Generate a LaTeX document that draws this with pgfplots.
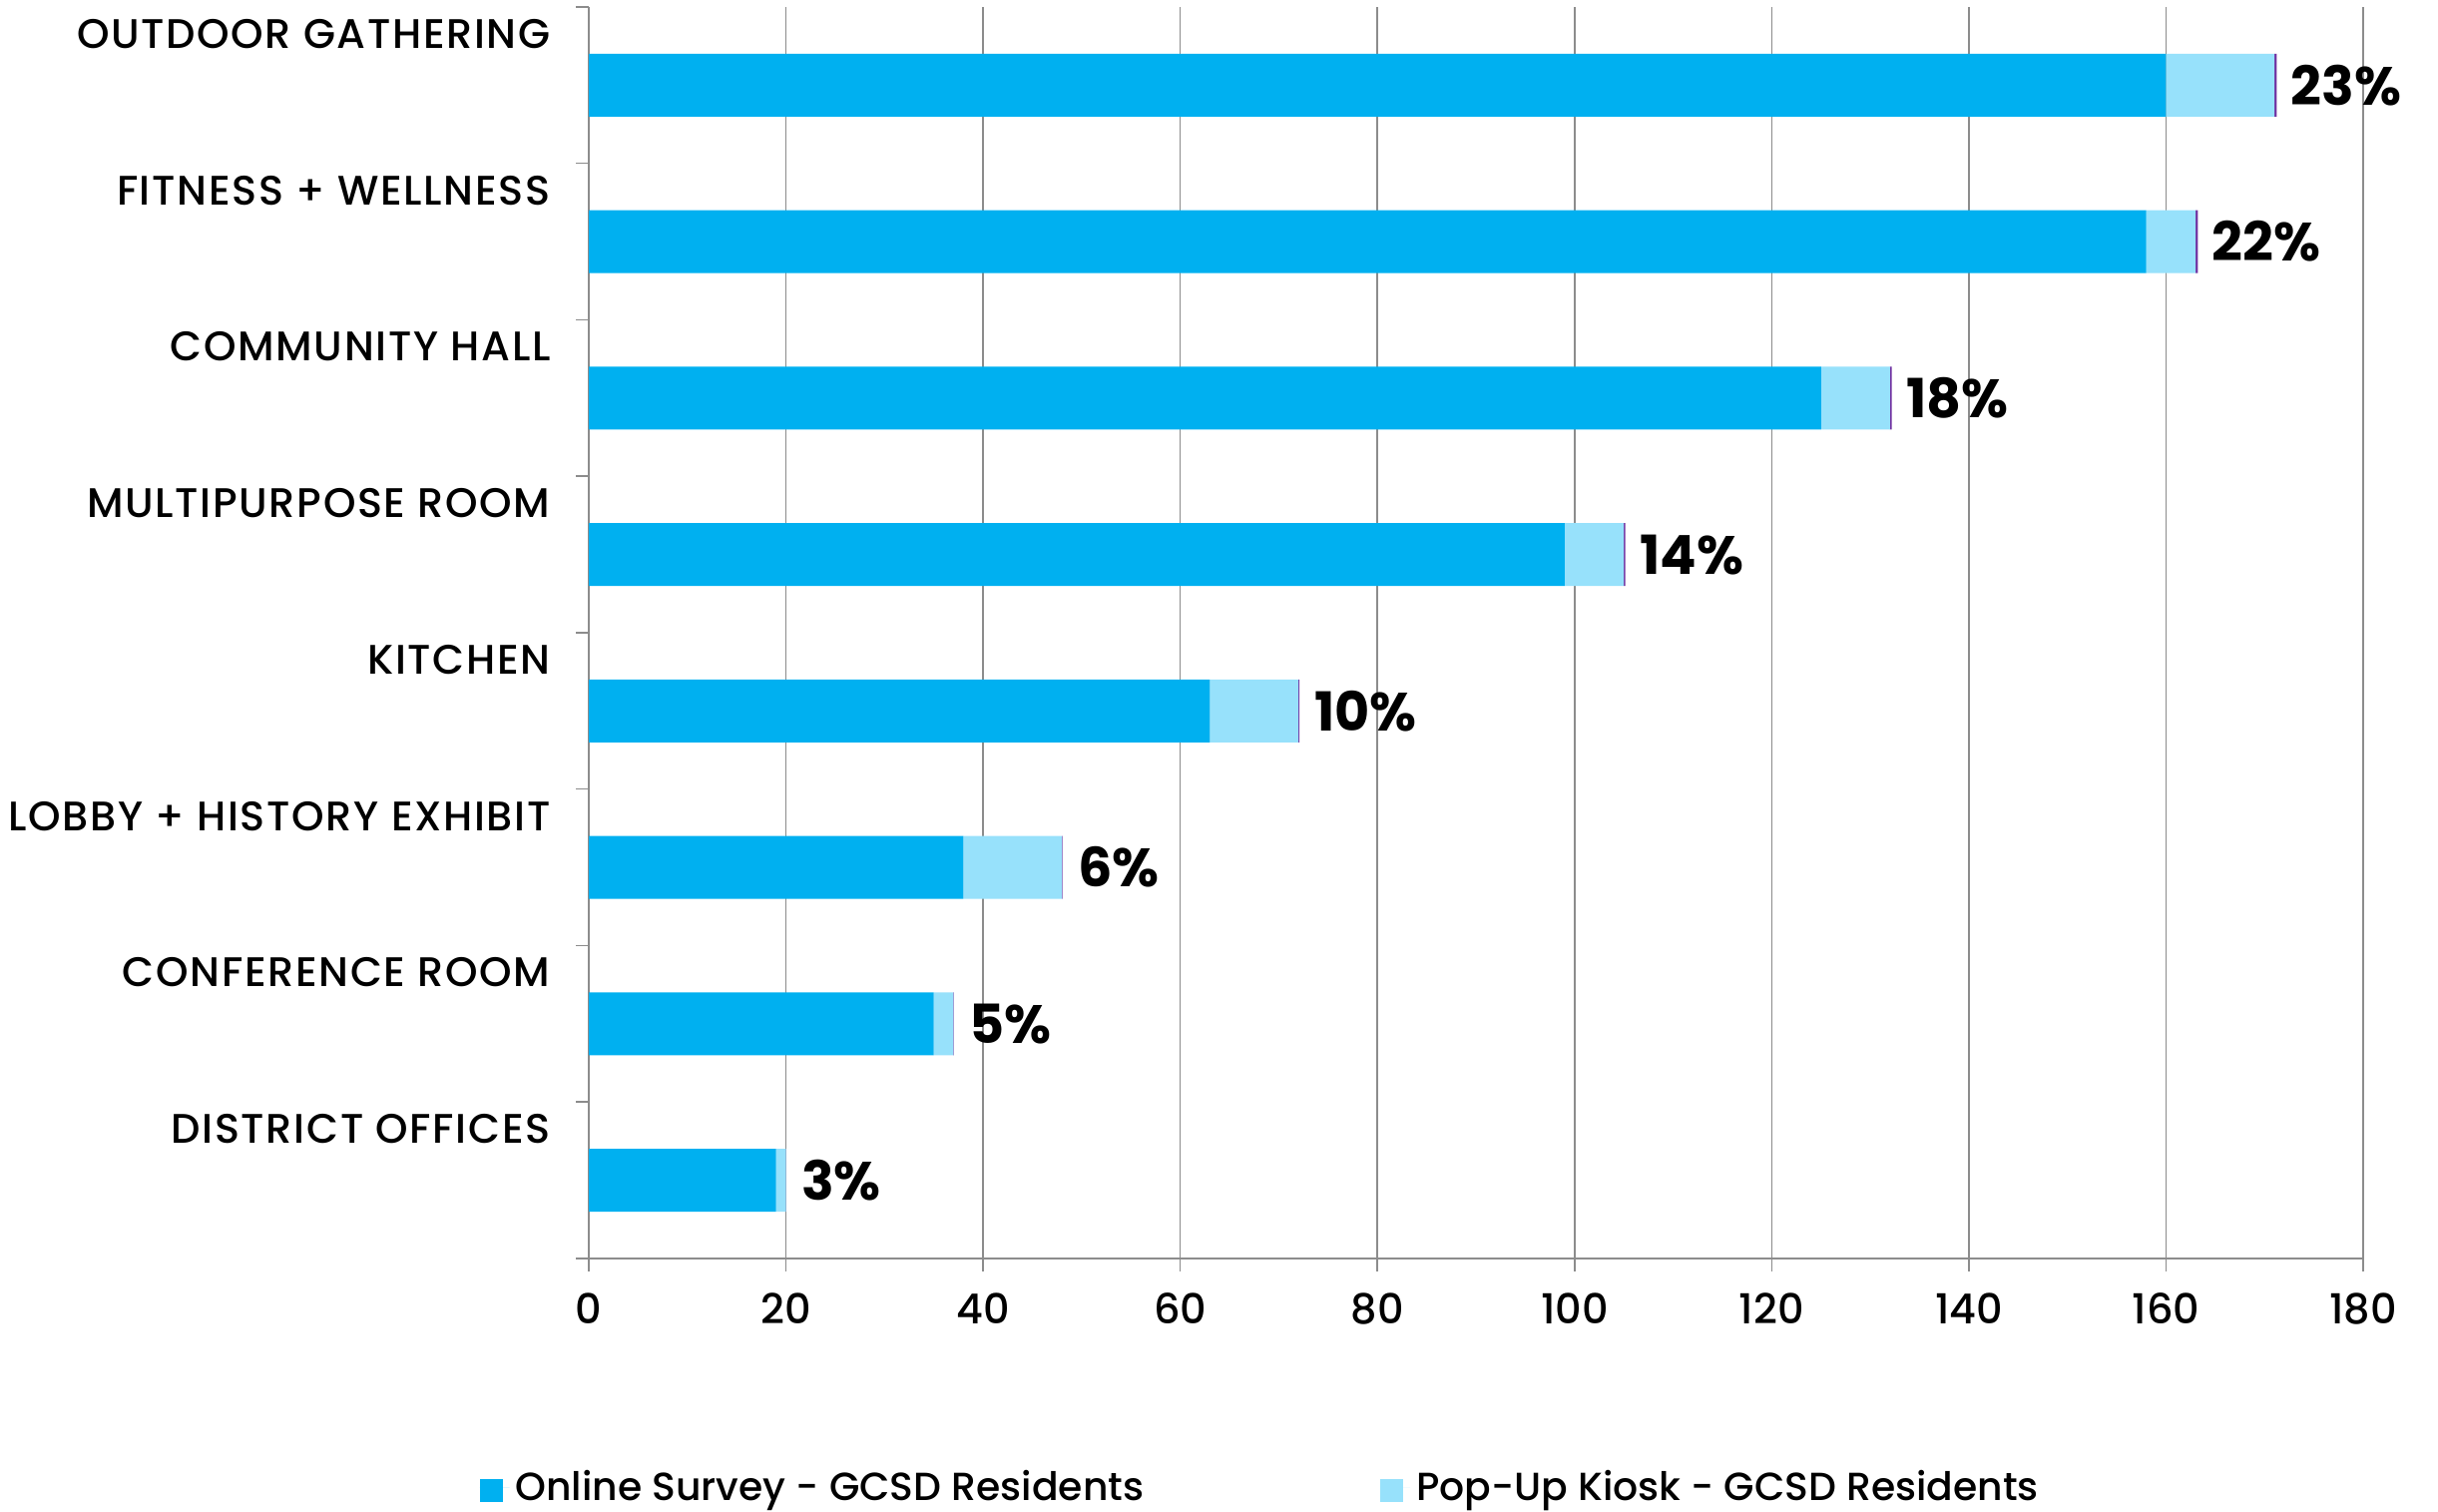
\documentclass[border=0pt]{standalone}
\usepackage{pgfplots}
\pgfplotsset{compat=1.18}
\usepackage{fontspec}
\setmainfont{Poppins}[UprightFont=* Medium, BoldFont=* Bold]
\newfontfamily\catfont{Poppins}[UprightFont=* Medium, LetterSpace=4]
\definecolor{online}{HTML}{00B0F0}
\definecolor{kiosk}{HTML}{97E1FB}
\definecolor{share}{HTML}{7030A0}
\definecolor{axgray}{HTML}{8C8C8C}
\begin{document}
\begin{tikzpicture}
\path[use as bounding box] (0,0) rectangle (814.33pt,505pt);
\begin{axis}[
  at={(196.67pt,84.67pt)}, anchor=south west,
  scale only axis, width=592.67pt, height=418pt,
  xbar stacked, bar width=21pt,
  xmin=0, xmax=180, ymin=-0.5, ymax=7.5,
  xtick={0,20,...,180},
  ytick={-0.5,0.5,...,7.5},
  yticklabels={,DISTRICT OFFICES,CONFERENCE ROOM,LOBBY + HISTORY EXHIBIT,KITCHEN,MULTIPURPOSE ROOM,COMMUNITY HALL,FITNESS + WELLNESS,OUTDOOR GATHERING},
  axis lines=left,
  axis line style={-, draw=axgray, line width=0.6pt},
  tick align=outside, major tick length=4.3pt,
  tick style={draw=axgray, line width=0.5pt},
  xmajorgrids, grid style={draw=axgray, line width=0.5pt},
  /pgf/number format/assume math mode=true,
  tick label style={font=\fontsize{13.8}{16}\selectfont},
  y tick label style={anchor=east, yshift=-9pt, xshift=-5pt, font=\catfont\fontsize{13.8}{16}\selectfont},
  x tick label style={yshift=-3.8pt},
  legend columns=2,
  legend style={at={(-0.0619,-0.1834)}, anchor=west, draw=none, inner sep=0pt,
    font=\fontsize{13.1}{15}\selectfont,
    /tikz/every even column/.append style={column sep=77pt}},
]
\addplot[fill=online, draw=none,
  legend image code/.code={\fill[online] (0pt,-4.7pt) rectangle (7.7pt,3pt);
    \path (0pt,0pt) -- (10pt,0pt);}]
  coordinates {(19,0) (35,1) (38,2) (63,3) (99,4) (125,5) (158,6) (160,7)};
\addlegendentry{Online Survey - GCSD Residents}
\addplot[fill=kiosk, draw=none,
  legend image code/.code={\fill[kiosk] (0pt,-4.7pt) rectangle (7.7pt,3pt);
    \path (0pt,0pt) -- (10pt,0pt);}]
  coordinates {(1,0) (2,1) (10,2) (9,3) (6,4) (7,5) (5,6) (11,7)};
\addlegendentry{Pop-Up Kiosk - GCSD Residents}
\addplot[fill=share, draw=none, forget plot,
  point meta=explicit symbolic, nodes near coords,
  nodes near coords style={font=\fontsize{18}{20}\selectfont\bfseries, anchor=west, inner sep=0pt, xshift=5pt}]
  coordinates {(0.03,0) [3\%] (0.05,1) [5\%] (0.06,2) [6\%] (0.10,3) [10\%]
    (0.14,4) [14\%] (0.18,5) [18\%] (0.22,6) [22\%] (0.23,7) [23\%]};
\end{axis}
\end{tikzpicture}
\end{document}
